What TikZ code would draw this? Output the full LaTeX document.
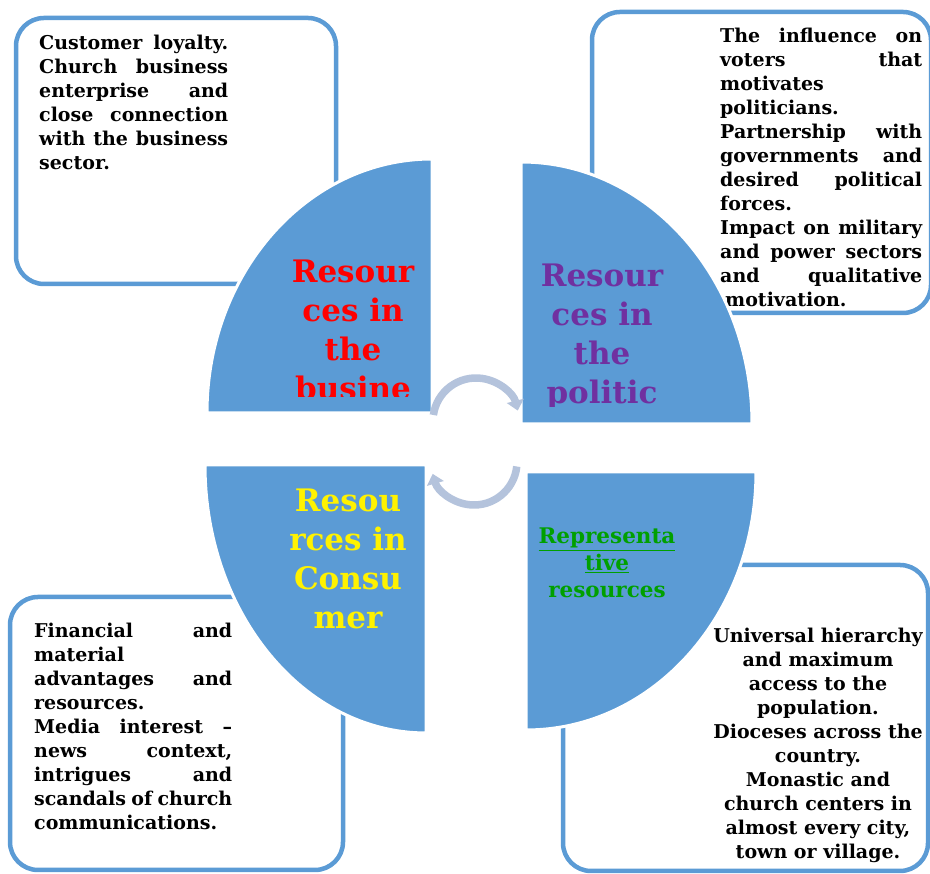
\documentclass[tikz,border=0pt]{standalone}
\usepackage{fontspec}
\setmainfont{DejaVu Serif}
\usetikzlibrary{arrows.meta}
\definecolor{pieblue}{RGB}{91,155,213}
\definecolor{cyclegray}{RGB}{180,195,220}
\definecolor{polpurple}{RGB}{112,48,160}
\definecolor{repgreen}{RGB}{0,160,0}
\newcommand{\jline}[2]{\makebox[#1pt][s]{#2}}
\begin{document}
\begin{tikzpicture}[x=1pt,y=1pt,
    infobox/.style={draw=pieblue,line width=4.5pt,fill=white,rounded corners=28pt},
    quarter/.style={fill=pieblue,draw=white,line width=3pt},
    boxtext/.style={anchor=north west,inner sep=0pt,align=left,font=\fontsize{19}{24}\selectfont\bfseries},
    pielabel/.style={anchor=north,inner sep=0pt,align=center,font=\fontsize{31}{39}\selectfont\bfseries},
    cyclearrow/.style={draw=cyclegray,line width=7.5pt,-{Triangle[width=17pt,length=10pt]}}]
    \useasboundingbox (0,0) rectangle (930,874);
    %% boxes behind the pie
    \draw[infobox] (16,590) rectangle (336,856);
    \draw[infobox] (592,561) rectangle (931,862);
    \draw[infobox] (10,4) rectangle (343,277);
    \draw[infobox] (563,3) rectangle (928,309);
    \node[boxtext] (loyalty) at (39,839) {\jline{189}{Customer loyalty.}\\ \jline{189}{Church business}\\
        \jline{189}{enterprise and}\\ \jline{189}{close connection}\\ \jline{189}{with the business}\\ sector.};
    \node[boxtext] (voters) at (720,846) {\jline{202}{The influence on}\\ \jline{202}{voters that}\\ motivates\\ politicians.\\
        \jline{202}{Partnership with}\\ \jline{202}{governments and}\\ \jline{202}{desired political}\\ forces.\\
        \jline{202}{Impact on military}\\ \jline{202}{and power sectors}\\ \jline{202}{and qualitative}\\ \hspace{5pt}motivation.};
    \node[boxtext] (finance) at (34,251) {\jline{198}{Financial and}\\ material\\ \jline{198}{advantages and}\\ resources.\\
        \jline{198}{Media interest –}\\ \jline{198}{news context,}\\ \jline{198}{intrigues and}\\ \jline{198}{scandals of church}\\ communications.};
    \node[boxtext,anchor=north,align=center] (hierarchy) at (818,246) {Universal hierarchy\\ and maximum\\ access to the\\ population.\\
        Dioceses across the\\ country.\\ Monastic and\\ church centers in\\ almost every city,\\ town or village.};
    %% four quarters
    \draw[quarter] (432,461) -- ++(0,254) arc[start angle=90,end angle=180,x radius=225pt,y radius=254pt] -- cycle;
    \draw[quarter] (521,450) -- ++(231,0) arc[start angle=0,end angle=90,x radius=231pt,y radius=262pt] -- cycle;
    \draw[quarter] (426,409) -- ++(-221,0) arc[start angle=180,end angle=270,x radius=221pt,y radius=268pt] -- cycle;
    \draw[quarter] (526,402) -- ++(0,-258) arc[start angle=270,end angle=360,x radius=230pt,y radius=258pt] -- cycle;
    \begin{scope}
        \clip (200,477) rectangle (440,720);
        \node[pielabel,text=red] (business) at (353,614) {Resour\\ ces in\\ the\\ busine};
    \end{scope}
    \begin{scope}
        \clip (515,467) rectangle (760,720);
        \node[pielabel,text=polpurple] (politic) at (602,610) {Resour\\ ces in\\ the\\ politic};
    \end{scope}
    \node[pielabel,text=yellow] (consumer) at (348,385) {Resou\\ rces in\\ Consu\\ mer};
    \node[pielabel,text=repgreen,font=\fontsize{21.5}{27}\selectfont\bfseries] (representative) at (607,346)
        {\underline{Representa}\\ \underline{tive}\\ resources};
    %% cycle arrows
    \draw[cyclearrow] (476,453) ++(172:43pt) arc[start angle=172,end angle=14,radius=43pt];
    \draw[cyclearrow] (474,412) ++(-6:43pt) arc[start angle=-6,end angle=-164,radius=43pt];
\end{tikzpicture}
\end{document}
